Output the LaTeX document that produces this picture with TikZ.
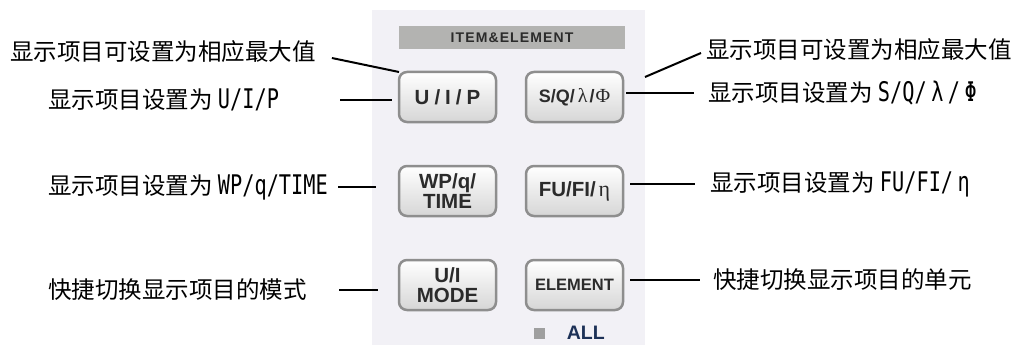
\documentclass[tikz,border=0pt]{standalone}
\usepackage{fontspec}
\setmainfont{Liberation Sans}
\newfontfamily\cjk{Noto Sans CJK SC}
\newfontfamily\mono[FakeStretch=0.75,Scale=1.15]{DejaVu Sans Mono}
\newfontfamily\widekey[LetterSpace=8]{Liberation Sans}
\newfontfamily\grk{Liberation Serif}
\usetikzlibrary{positioning}

\definecolor{panelbg}{HTML}{F2F1F6}
\definecolor{hdrgray}{HTML}{B3B3B1}
\definecolor{keyedge}{HTML}{8E8E8E}
\definecolor{keyshade}{HTML}{D6D6D6}
\definecolor{keytext}{HTML}{2B2B2B}
\definecolor{allblue}{HTML}{1D3157}

\begin{document}
\begin{tikzpicture}[x=1pt, y=-1pt,
    % --- Styles ---
    key/.style={
        rectangle,
        rounded corners=8pt,
        draw=keyedge,
        line width=2.5pt,
        top color=white,
        bottom color=keyshade,
        minimum width=97pt,
        minimum height=50pt,
        inner sep=0pt,
        outer sep=0pt,
        align=center,
        text=keytext,
        font=\bfseries\fontsize{20.5}{19.5}\selectfont
    },
    note/.style={
        inner sep=0pt,
        anchor=west,
        font=\cjk\fontsize{23.5}{26}\selectfont
    },
    lead/.style={
        line width=2pt
    }
]
\useasboundingbox (0,0) rectangle (1020,345);

% --- Panel ---
\fill[panelbg] (372,10) rectangle (645,345);
\node[fill=hdrgray, minimum width=226pt, minimum height=23pt, inner sep=0pt,
    text=keytext, font=\widekey\bfseries\fontsize{14}{14}\selectfont]
    (title) at (512,37.5) {ITEM\&ELEMENT};

% --- Keys (relative positioning) ---
\node[key] (uip) at (447.5,97) {U\kern5pt/\kern5pt I\kern5pt/\kern5pt P};
\node[key, right=30pt of uip, font=\bfseries\fontsize{18}{18}\selectfont] (sqf)
    {S/Q/\kern3pt{\grk\mdseries\fontsize{20}{20}\selectfont λ}\kern2pt/\kern1pt{\grk\mdseries\fontsize{20}{20}\selectfont Φ}};

\node[key, below=44pt of uip] (wpq) {WP/q/\\TIME};
\node[key, right=30pt of wpq] (fuf)
    {FU/FI/\kern3pt{\grk\mdseries\fontsize{22}{22}\selectfont η}};

\node[key, below=44pt of wpq] (uim) {U/I\\MODE};
\node[key, right=30pt of uim, font=\bfseries\fontsize{16.5}{16.5}\selectfont] (elem) {ELEMENT};

\node[fill=gray!75, minimum size=11pt, inner sep=0pt] (sq) at (539,333) {};
\node[right=22pt of sq, inner sep=0pt, text=allblue,
    font=\bfseries\fontsize{19.5}{19.5}\selectfont] (all) {ALL};

% --- Notes ---
\node[note] (maxl) at (10,52) {显示项目可设置为相应最大值};
\node[note] (uipl) at (48,100) {显示项目设置为 {\mono U/I/P}};
\node[note] (wpql) at (48,187) {显示项目设置为 {\mono WP/q/TIME}};
\node[note] (uiml) at (48,290) {快捷切换显示项目的模式};

\node[note] (maxr) at (706,50) {显示项目可设置为相应最大值};
\node[note] (sqfr) at (708,93) {显示项目设置为 {\mono S/Q/\,λ\,/\,Φ}};
\node[note] (fufr) at (710,184) {显示项目设置为 {\mono FU/FI/\,η}};
\node[note] (elemr) at (713,280) {快捷切换显示项目的单元};

% --- Leads ---
\draw[lead] ([shift={(16pt,-6pt)}]maxl.east) -- (uip.north west);
\draw[lead] ([xshift=-59pt]uipl.east -| uip.west) -- ([xshift=-7pt]uipl.east -| uip.west);
\draw[lead] ([xshift=-61pt]wpql.east -| wpq.west) -- ([xshift=-23pt]wpql.east -| wpq.west);
\draw[lead] ([xshift=-60pt]uiml.east -| uim.west) -- ([xshift=-21pt]uiml.east -| uim.west);

\draw[lead] ([shift={(22pt,20pt)}]sqf.east) -- ([shift={(-5pt,-3pt)}]maxr.west);
\draw[lead] ([xshift=3pt]sqfr.west -| sqf.east) -- ([xshift=-14pt]sqfr.west);
\draw[lead] ([xshift=7pt]fufr.west -| fuf.east) -- ([xshift=-15pt]fufr.west);
\draw[lead] ([xshift=7pt]elemr.west -| elem.east) -- ([xshift=-13pt]elemr.west);
\end{tikzpicture}
\end{document}
